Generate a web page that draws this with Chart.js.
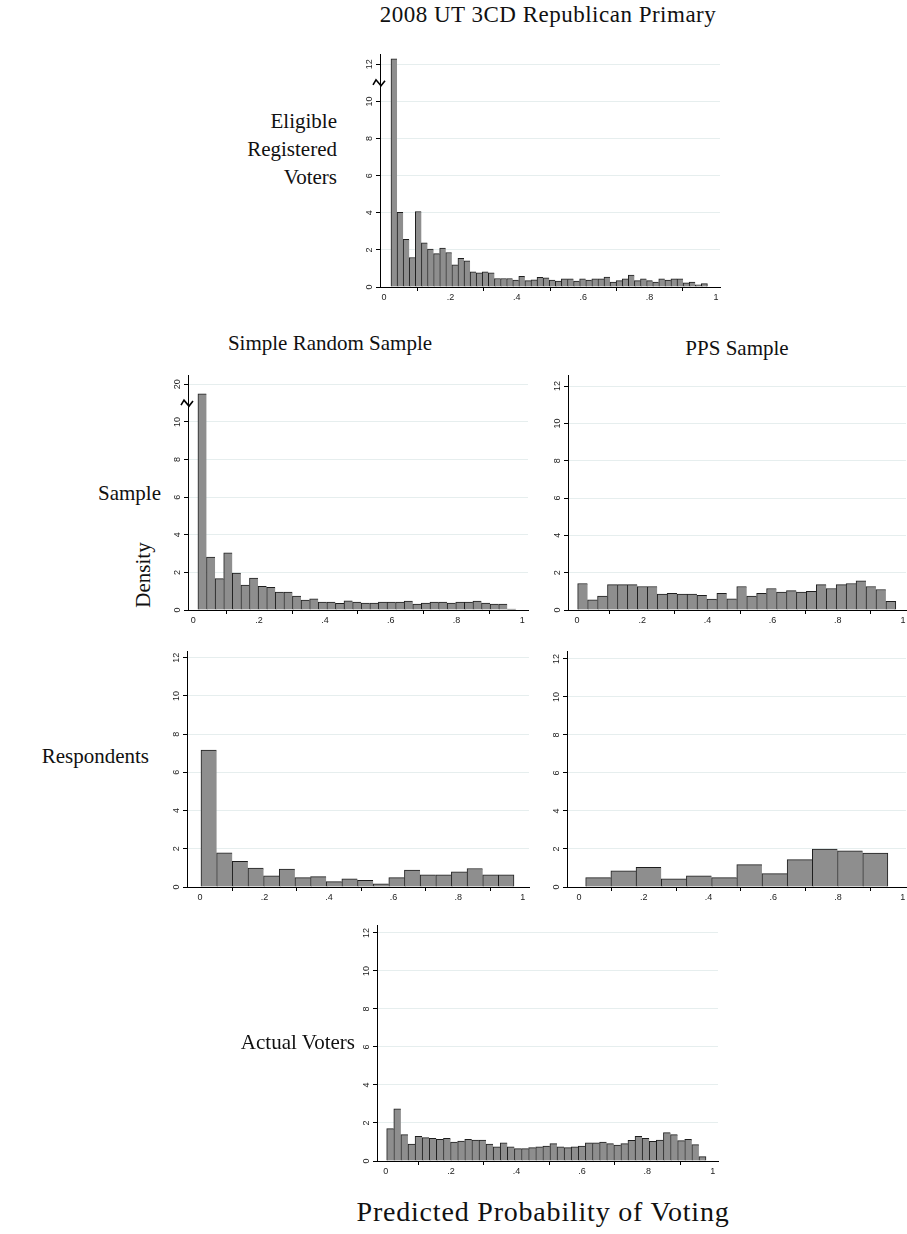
<!DOCTYPE html>
<html>
<head>
<meta charset="utf-8">
<script src="https://cdn.jsdelivr.net/npm/chart.js@4.4.1/dist/chart.umd.min.js"></script>
<style>
  html, body { margin: 0; padding: 0; background: #fff; }
  #fig { position: relative; width: 907px; height: 1234px; overflow: hidden; }
  #fig canvas { position: absolute; }
  .lbl { position: absolute; font-family: 'Liberation Serif', 'Times New Roman', serif; font-size: 21px; color: #111; white-space: nowrap; line-height: 1; }
</style>
</head>
<body>
<div id="fig">
  <canvas id="regChart"></canvas>
  <canvas id="srsSampleChart"></canvas>
  <canvas id="ppsSampleChart"></canvas>
  <canvas id="srsRespChart"></canvas>
  <canvas id="ppsRespChart"></canvas>
  <canvas id="voterChart"></canvas>

  <div class="lbl" style="left:548px; top:14px; font-size:23px; letter-spacing:0.5px; transform:translate(-50%,-50%);">2008 UT 3CD Republican Primary</div>
  <div class="lbl" style="right:570px; top:121px; transform:translateY(-50%);">Eligible</div>
  <div class="lbl" style="right:570px; top:149px; transform:translateY(-50%);">Registered</div>
  <div class="lbl" style="right:570px; top:177px; transform:translateY(-50%);">Voters</div>
  <div class="lbl" style="left:330px; top:343px; transform:translate(-50%,-50%);">Simple Random Sample</div>
  <div class="lbl" style="left:737px; top:348px; transform:translate(-50%,-50%);">PPS Sample</div>
  <div class="lbl" style="right:746px; top:493px; transform:translateY(-50%);">Sample</div>
  <div class="lbl" style="left:143px; top:575px; transform:translate(-50%,-50%) rotate(-90deg);">Density</div>
  <div class="lbl" style="right:758px; top:756px; transform:translateY(-50%);">Respondents</div>
  <div class="lbl" style="right:552px; top:1042px; transform:translateY(-50%);">Actual Voters</div>
  <div class="lbl" style="left:543px; top:1212px; font-size:28px; letter-spacing:0.8px; transform:translate(-50%,-50%);">Predicted Probability of Voting</div>
</div>
<script>
// axis ticks
const xTickVals = [0, 0.2, 0.4, 0.6, 0.8, 1];
const xTickText = ['0', '.2', '.4', '.6', '.8', '1'];
const yTickVals = [0, 2, 4, 6, 8, 10, 12];
const yTickText = ['0', '2', '4', '6', '8', '10', '12'];
const yTickTextSrs = ['0', '2', '4', '6', '8', '10', '20'];   // top label is "20" above the break

// densities, one per bin
const regDensity = [12.3, 4.02, 2.57, 1.59, 4.07, 2.38, 2.05, 1.8, 2.1, 1.86,
  1.2, 1.55, 1.41, 0.82, 0.77, 0.82, 0.77, 0.46, 0.46, 0.46,
  0.37, 0.57, 0.34, 0.39, 0.52, 0.5, 0.37, 0.32, 0.44, 0.44,
  0.32, 0.44, 0.37, 0.44, 0.44, 0.53, 0.27, 0.34, 0.44, 0.64,
  0.34, 0.44, 0.34, 0.27, 0.44, 0.37, 0.44, 0.44, 0.23, 0.27,
  0.12, 0.18];
const srsSampleDensity = [11.5, 2.82, 1.67, 3.04, 1.96, 1.32, 1.7, 1.26, 1.21, 0.95,
  0.95, 0.74, 0.53, 0.6, 0.42, 0.42, 0.35, 0.49, 0.42, 0.37,
  0.37, 0.42, 0.42, 0.42, 0.47, 0.32, 0.37, 0.42, 0.42, 0.37,
  0.42, 0.42, 0.47, 0.37, 0.32, 0.32, 0.05];
const ppsSampleDensity = [1.42, 0.55, 0.74, 1.36, 1.36, 1.36, 1.26, 1.26, 0.85, 0.9,
  0.85, 0.85, 0.78, 0.58, 0.9, 0.6, 1.26, 0.74, 0.9, 1.15,
  0.96, 1.04, 0.96, 1.0, 1.36, 1.15, 1.36, 1.42, 1.56, 1.26,
  1.1, 0.46];
const srsRespDensity = [7.17, 1.79, 1.34, 0.99, 0.59, 0.94, 0.49, 0.54, 0.28, 0.43,
  0.35, 0.17, 0.49, 0.89, 0.64, 0.64, 0.8, 0.97, 0.64, 0.64];
const ppsRespDensity = [0.49, 0.85, 1.04, 0.43, 0.59, 0.49, 1.18, 0.7, 1.44, 2.0, 1.9, 1.79];
const voterDensity = [1.7, 2.75, 1.39, 0.89, 1.3, 1.23, 1.19, 1.14, 1.19, 1.0,
  1.05, 1.14, 1.1, 1.1, 0.89, 0.75, 0.95, 0.75, 0.65, 0.65,
  0.7, 0.75, 0.79, 0.91, 0.74, 0.7, 0.74, 0.79, 0.95, 0.95,
  1.0, 0.91, 0.84, 0.91, 1.09, 1.3, 1.19, 1.04, 1.1, 1.49,
  1.39, 1.07, 1.14, 0.86, 0.23];

// first bin edge and bin width of each histogram
const regBins = { start: 0.021, width: 0.01833 };
const srsSampleBins = { start: 0.014, width: 0.02612 };
const ppsSampleBins = { start: 0.002, width: 0.0305 };
const srsRespBins = { start: 0.003, width: 0.0485 };
const ppsRespBins = { start: 0.0206, width: 0.0778 };
const voterBins = { start: 0.003, width: 0.0217 };

const AXIS_W = 24, AXIS_H = 20, PAD_T = 4, PAD_R = 2;
const BAR_FILL = '#8e8e8e', BAR_LINE = '#1e1e1e', GRID = '#e6eeee';

// zig-zag mark on the y axis where the first bar is cut
const axisBreak = {
    id: 'axisBreak',
    afterDraw(chart, args, opts) {
        if (opts.at == null) return;
        const ctx = chart.ctx;
        const x = chart.chartArea.left;
        const y = chart.scales.y.getPixelForValue(opts.at);
        ctx.save();
        ctx.strokeStyle = '#000';
        ctx.lineWidth = 1.6;
        ctx.beginPath();
        ctx.moveTo(x - 7, y + 2);
        ctx.lineTo(x - 4, y - 3);
        ctx.lineTo(x + 1, y + 3);
        ctx.lineTo(x + 5, y - 2);
        ctx.stroke();
        ctx.restore();
    }
};

function makeHist(id, box, values, bins, yText, breakAt) {
    const canvas = document.getElementById(id);
    const W = box.right - box.left + AXIS_W + PAD_R;
    const H = box.bottom - box.top + PAD_T + AXIS_H;
    canvas.width = W; canvas.height = H;
    canvas.style.width = W + 'px'; canvas.style.height = H + 'px';
    canvas.style.left = (box.left - AXIS_W) + 'px';
    canvas.style.top = (box.top - PAD_T) + 'px';

    const span = box.onePx - box.zeroPx;
    const xmin = (box.left - box.zeroPx) / span;
    const xmax = (box.right - box.zeroPx) / span;
    const ymax = (box.bottom - box.top) / box.unitPx;
    const n = values.length;
    const points = values.map((v, i) => ({ x: bins.start + (i + 0.5) * bins.width, y: v }));
    const tickFont = { family: "'Liberation Sans', Arial, sans-serif", size: 9 };

    return new Chart(canvas, {
        type: 'bar',
        data: {
            datasets: [{
                data: points,
                backgroundColor: BAR_FILL,
                borderColor: BAR_LINE,
                borderWidth: c => c.dataIndex === n - 1
                    ? { top: 1, left: 1, right: 1, bottom: 0 }
                    : { top: 1, left: 1, right: 0, bottom: 0 },
                barPercentage: 1,
                categoryPercentage: 1
            }]
        },
        options: {
            responsive: false,
            animation: false,
            devicePixelRatio: 1,
            layout: { autoPadding: false, padding: { top: PAD_T, right: PAD_R, left: 0, bottom: 0 } },
            plugins: { legend: { display: false }, tooltip: { enabled: false }, axisBreak: { at: breakAt } },
            scales: {
                x: {
                    type: 'linear', min: xmin, max: xmax, offset: false,
                    afterBuildTicks: s => { s.ticks = xTickVals.map(v => ({ value: v })); },
                    afterFit: s => { s.height = AXIS_H; },
                    ticks: {
                        autoSkip: false, minRotation: 0, maxRotation: 0, padding: 1,
                        font: tickFont, color: '#222',
                        callback: v => xTickText[xTickVals.indexOf(v)]
                    },
                    grid: { drawOnChartArea: false, tickLength: 4, tickColor: '#000' },
                    border: { color: '#000', width: 1 }
                },
                y: {
                    min: 0, max: ymax,
                    afterBuildTicks: s => { s.ticks = yTickVals.map(v => ({ value: v })); },
                    afterFit: s => { s.width = AXIS_W; },
                    ticks: {
                        autoSkip: false, minRotation: 90, maxRotation: 90, padding: 1,
                        crossAlign: 'center', font: tickFont, color: '#222',
                        callback: v => yText[yTickVals.indexOf(v)]
                    },
                    grid: {
                        color: c => (c.tick && c.tick.value === 0) ? 'rgba(0,0,0,0)' : GRID,
                        tickLength: 4, tickColor: '#000'
                    },
                    border: { color: '#000', width: 1 }
                }
            }
        },
        plugins: [axisBreak]
    });
}

makeHist('regChart', { left: 380, right: 720, top: 52, bottom: 287, zeroPx: 384, onePx: 716, unitPx: 18.75 },
    regDensity, regBins, yTickText, 11);
makeHist('srsSampleChart', { left: 188, right: 528, top: 373, bottom: 610, zeroPx: 193.3, onePx: 522.3, unitPx: 19 },
    srsSampleDensity, srsSampleBins, yTickTextSrs, 11);
makeHist('ppsSampleChart', { left: 568, right: 906, top: 373, bottom: 610, zeroPx: 577, onePx: 903, unitPx: 18.85 },
    ppsSampleDensity, ppsSampleBins, yTickText, null);
makeHist('srsRespChart', { left: 187, right: 529, top: 649, bottom: 887, zeroPx: 200, onePx: 522.7, unitPx: 19.3 },
    srsRespDensity, srsRespBins, yTickText, null);
makeHist('ppsRespChart', { left: 567, right: 906, top: 649, bottom: 887, zeroPx: 579, onePx: 902.7, unitPx: 19.2 },
    ppsRespDensity, ppsRespBins, yTickText, null);
makeHist('voterChart', { left: 377, right: 718, top: 923, bottom: 1161, zeroPx: 385.7, onePx: 712.7, unitPx: 19.2 },
    voterDensity, voterBins, yTickText, null);
</script>
</body>
</html>
